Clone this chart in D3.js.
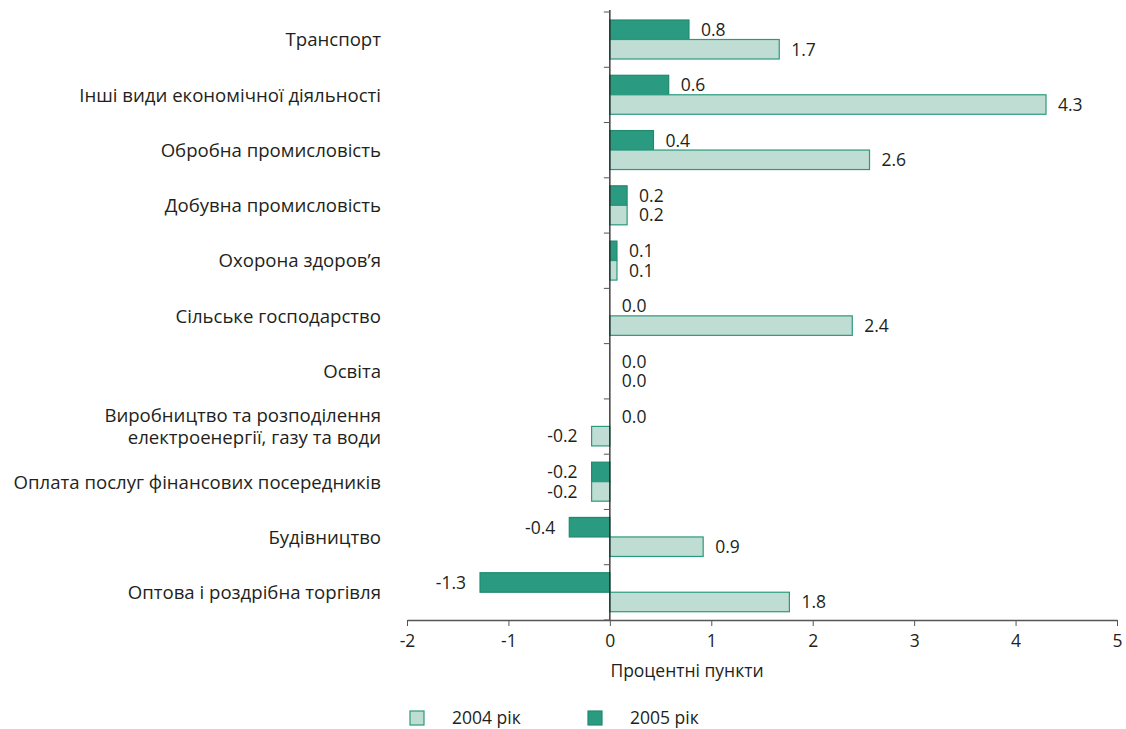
<!DOCTYPE html>
<html>
<head>
<meta charset="utf-8">
<script src="https://cdn.jsdelivr.net/npm/d3@7"></script>
<style>
  body { margin: 0; background: #fff; }
  text { font-family: "Open Sans", sans-serif; fill: #231f20; }
</style>
</head>
<body>
<div id="chart"></div>
<script>
// categories top to bottom
const categories = [
  "Транспорт",
  "Інші види економічної діяльності",
  "Обробна промисловість",
  "Добувна промисловість",
  "Охорона здоров’я",
  "Сільське господарство",
  "Освіта",
  "Виробництво та розподілення|електроенергії, газу та води",
  "Оплата послуг фінансових посередників",
  "Будівництво",
  "Оптова і роздрібна торгівля"
];
const values2005 = [0.78, 0.58, 0.43, 0.17, 0.07, 0, 0, 0, -0.18, -0.40, -1.28];
const values2004 = [1.67, 4.30, 2.56, 0.17, 0.07, 2.39, 0, -0.18, -0.18, 0.92, 1.77];
const xTicks = [-2, -1, 0, 1, 2, 3, 4, 5];
const seriesNames = ["2004 рік", "2005 рік"];

const width = 1126, height = 729;
const darkFill = "#2a9a80", darkStroke = "#1f8a6e";
const lightFill = "#c0ddd4", lightStroke = "#2a9a7c";

var svg = d3.select("#chart").append("svg")
  .attr("width", width).attr("height", height);

var x = d3.scaleLinear().domain([-2, 5]).range([407, 1117]);
var y = d3.scaleBand().domain(d3.range(categories.length)).range([12, 620]);
var fmt = function (v) { return d3.format(".1f")(v).replace("−", "-"); };
var barH = 19.5;

// bars
function drawSeries(vals, fill, stroke, offset) {
  var rows = vals.map(function (v, i) { return { v: v, i: i }; });
  svg.append("g").selectAll("rect")
    .data(rows.filter(function (d) { return d.v !== 0; }))
    .join("rect")
    .attr("x", function (d) { return x(Math.min(0, d.v)); })
    .attr("width", function (d) { return Math.abs(x(d.v) - x(0)); })
    .attr("y", function (d) { return y(d.i) + offset; })
    .attr("height", barH)
    .attr("fill", fill)
    .attr("stroke", stroke)
    .attr("stroke-width", 1.2);
  svg.append("g").selectAll("text").data(rows).join("text")
    .attr("x", function (d) { return d.v < 0 ? x(d.v) - 14 : x(d.v) + 12; })
    .attr("y", function (d) { return y(d.i) + offset + barH / 2; })
    .attr("dy", "0.36em")
    .attr("text-anchor", function (d) { return d.v < 0 ? "end" : "start"; })
    .attr("font-size", 17.5)
    .text(function (d) { return fmt(d.v); });
}
drawSeries(values2005, darkFill, darkStroke, 8);
drawSeries(values2004, lightFill, lightStroke, 8 + barH);

// zero axis with ticks at category boundaries
svg.append("line")
  .attr("x1", x(0)).attr("x2", x(0))
  .attr("y1", 10).attr("y2", 620)
  .attr("stroke", "#231f20").attr("stroke-width", 1.3);
svg.append("g").selectAll("line").data(d3.range(categories.length + 1)).join("line")
  .attr("x1", x(0) - 6).attr("x2", x(0))
  .attr("y1", function (i) { return 12 + i * y.step(); })
  .attr("y2", function (i) { return 12 + i * y.step(); })
  .attr("stroke", "#555").attr("stroke-width", 1);

// category labels
svg.append("g").selectAll("text").data(categories).join("text")
  .attr("x", 381)
  .attr("y", function (d, i) { return y(i) + y.bandwidth() / 2; })
  .attr("text-anchor", "end")
  .attr("font-size", 18.6)
  .each(function (d) {
    var lines = d.split("|");
    var t = d3.select(this);
    lines.forEach(function (l, k) {
      t.append("tspan")
        .attr("x", 381)
        .attr("dy", k === 0 ? (0.36 - (lines.length - 1) * 0.6) + "em" : "1.2em")
        .text(l);
    });
  });

// x axis
var xAxis = svg.append("g")
  .attr("transform", "translate(0,620)")
  .call(d3.axisBottom(x).tickValues(xTicks).tickSize(6).tickSizeOuter(0));
xAxis.select(".domain").attr("stroke", "#555").attr("stroke-width", 1.3);
xAxis.selectAll(".tick line").attr("stroke", "#555");
xAxis.selectAll(".tick text")
  .attr("font-size", 17.5).attr("font-family", "Open Sans, sans-serif")
  .attr("fill", "#231f20").attr("dy", "1.05em")
  .text(function (d) { return d < 0 ? "-" + Math.abs(d) : d; });

svg.append("text")
  .attr("x", 687).attr("y", 677)
  .attr("text-anchor", "middle")
  .attr("font-size", 17.5)
  .text("Процентні пункти");

// legend
var legend = [
  { name: seriesNames[0], fill: lightFill, stroke: lightStroke, x: 410 },
  { name: seriesNames[1], fill: darkFill, stroke: darkStroke, x: 588 }
];
var lg = svg.append("g").selectAll("g").data(legend).join("g")
  .attr("transform", function (d) { return "translate(" + d.x + ",711)"; });
lg.append("rect").attr("width", 14).attr("height", 14)
  .attr("fill", function (d) { return d.fill; })
  .attr("stroke", function (d) { return d.stroke; })
  .attr("stroke-width", 1.2);
lg.append("text").attr("x", 42).attr("y", 7).attr("dy", "0.36em")
  .attr("font-size", 17.5)
  .text(function (d) { return d.name; });
</script>
</body>
</html>
